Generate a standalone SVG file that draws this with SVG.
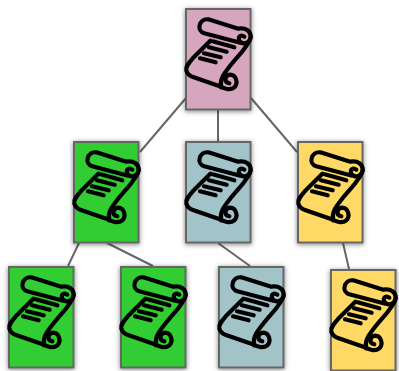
<svg xmlns="http://www.w3.org/2000/svg" width="399" height="371" viewBox="0 0 399 371">
<style>
.n{stroke:#666;stroke-width:2}
.e{stroke:#666;stroke-width:2;fill:none}
.s{fill:none;stroke:#000;stroke-width:12.5;stroke-linecap:round;stroke-linejoin:round}
</style>
<defs>
<filter id="sh" x="-20%" y="-20%" width="140%" height="140%"><feDropShadow dx="0" dy="1" stdDeviation="2.5" flood-color="#000" flood-opacity=".5"/></filter>
<g id="scroll" transform="scale(.3333)">
<path class="s" d="M166 104 L58 76 C46 72 41 62 44 52 C47 40 56 32 70 34 L160 62 C182 58 199 70 197 88 C195 106 172 112 163 98 C158 86 168 78 178 86"/>
<path class="s" d="M197 88 C192 114 160 142 135 174 C118 196 104 212 108 238"/>
<path class="s" d="M76 98 L24 150 C10 166 1 176 4 188 C7 198 14 204 24 207 L100 233 C115 240 133 250 148 238 C161 225 153 200 135 200 C118 203 116 222 133 226"/>
<path class="s" d="M83 100 L148 118 M72 118 L125 131 M57 136 L107 148 M45 151 L92 163"/>
</g>
</defs>
<g id="connectors">
<line class="e" x1="186" y1="98" x2="140" y2="152"/>
<line class="e" x1="218" y1="110" x2="218" y2="141"/>
<line class="e" x1="251" y1="98" x2="297" y2="152"/>
<line class="e" x1="79" y1="243" x2="68" y2="266"/>
<line class="e" x1="107" y1="243" x2="153" y2="266"/>
<line class="e" x1="218" y1="243" x2="250" y2="266"/>
<line class="e" x1="343" y1="243" x2="349" y2="269"/>
</g>
<g id="root"><rect class="n" filter="url(#sh)" x="186" y="9" width="64.5" height="100.5" fill="#D5A6BD"/><use href="#scroll" x="185" y="8"/></g>
<g id="n1"><rect class="n" filter="url(#sh)" x="74" y="142" width="64.5" height="100.5" fill="#32CD32"/><use href="#scroll" x="73" y="141"/></g>
<g id="n2"><rect class="n" filter="url(#sh)" x="186" y="142" width="64.5" height="100.5" fill="#A2C4C9"/><use href="#scroll" x="185" y="141"/></g>
<g id="n3"><rect class="n" filter="url(#sh)" x="298" y="142" width="64.5" height="100.5" fill="#FFD966"/><use href="#scroll" x="297" y="141"/></g>
<g id="n4"><rect class="n" filter="url(#sh)" x="9" y="267" width="64.5" height="100.5" fill="#32CD32"/><use href="#scroll" x="8" y="266"/></g>
<g id="n5"><rect class="n" filter="url(#sh)" x="121" y="267" width="64.5" height="100.5" fill="#32CD32"/><use href="#scroll" x="120" y="266"/></g>
<g id="n6"><rect class="n" filter="url(#sh)" x="219" y="267" width="64.5" height="100.5" fill="#A2C4C9"/><use href="#scroll" x="218" y="266"/></g>
<g id="n7"><rect class="n" filter="url(#sh)" x="331" y="270" width="64.5" height="100.5" fill="#FFD966"/><use href="#scroll" x="330" y="269"/></g>
</svg>
